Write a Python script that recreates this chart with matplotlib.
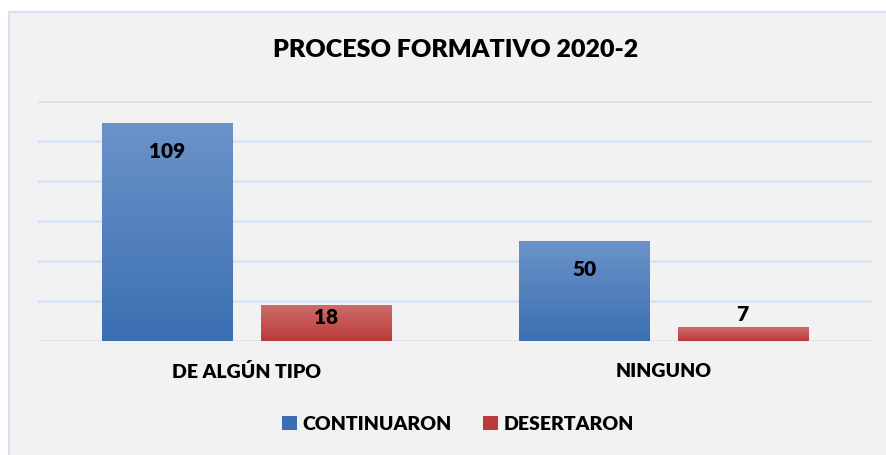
import numpy as np
import matplotlib.pyplot as plt
from matplotlib.colors import LinearSegmentedColormap
from matplotlib.patches import Rectangle, Patch
from matplotlib.font_manager import FontProperties

# datos del grafico
categorias = ["DE ALGÚN TIPO", "NINGUNO"]
series = ["CONTINUARON", "DESERTARON"]
continuaron = [109, 50]
desertaron = [18, 7]
titulo = "PROCESO FORMATIVO 2020-2"

plt.rcParams['font.family'] = ['Lato', 'DejaVu Sans']
PESO = 'heavy'

# colores (abajo oscuro, arriba claro)
azul = ('#3b6fb2', '#6b93c9')
rojo = ('#ba3b39', '#ce6c6a')

fig = plt.figure(figsize=(8.87, 4.56), dpi=100)
fig.patch.set_facecolor('white')
fondo = Rectangle((9 / 887, -0.02), 1.0, 1 - 13 / 456 + 0.02, transform=fig.transFigure,
                  facecolor='#f2f2f2', edgecolor='#d6e1f2', linewidth=1.5, zorder=-10)
fig.patches.append(fondo)

ax = fig.add_axes([38 / 887, 114 / 456, 834 / 887, 240 / 456])
ax.set_facecolor('none')

x = np.arange(len(categorias))
ancho = 0.312
desp = 0.19
grad = np.linspace(0, 1, 256).reshape(-1, 1)


def barras_gradiente(pos, valores, colores):
    cmap = LinearSegmentedColormap.from_list('g', list(colores))
    barras = ax.bar(pos, valores, width=ancho, color=colores[0], zorder=2)
    for b, v in zip(barras, valores):
        x0 = b.get_x()
        im = ax.imshow(grad, extent=[x0, x0 + b.get_width(), 0, v], origin='lower',
                       cmap=cmap, aspect='auto', zorder=3)
        im.set_clip_path(b)
        # etiqueta de valor
        if v > 30:
            off = -19.5
        elif v > 10:
            off = -8.6
        else:
            off = 10
        ax.annotate(str(v), (b.get_x() + b.get_width() / 2, v), xytext=(0, off),
                    textcoords='offset points', ha='center', va='center',
                    fontsize=15, fontweight=PESO, color='black', zorder=5)
    return barras


barras_gradiente(x - desp, continuaron, azul)
barras_gradiente(x + desp, desertaron, rojo)

ax.set_xlim(-0.5, 1.5)
ax.set_ylim(0, 120)
ax.set_yticks(np.arange(0, 121, 20))
ax.yaxis.grid(True, color='#d6e1f2', linewidth=1.8, zorder=0)
ax.set_axisbelow(True)
ax.tick_params(axis='y', left=False, labelleft=False)
ax.set_xticks(x, categorias)
ax.tick_params(axis='x', length=0, pad=15)
for lab in ax.get_xticklabels():
    lab.set_fontsize(14)
    lab.set_fontweight(PESO)
for s in ax.spines.values():
    s.set_visible(False)

fig.text(456 / 887, 1 - 50 / 456, titulo, ha='center', va='center',
         fontsize=18, fontweight=PESO)

handles = [Patch(facecolor=azul[0], edgecolor='none'),
           Patch(facecolor=rojo[0], edgecolor='none')]
fig.legend(handles, series, loc='center', bbox_to_anchor=(458 / 887, 1 - 425 / 456),
           ncol=2, frameon=False, handlelength=0.75, handleheight=0.75,
           handletextpad=0.3, columnspacing=1.6,
           prop=FontProperties(family=['Lato', 'DejaVu Sans'], size=14, weight=PESO))

fig.savefig('out.png', dpi=100)
